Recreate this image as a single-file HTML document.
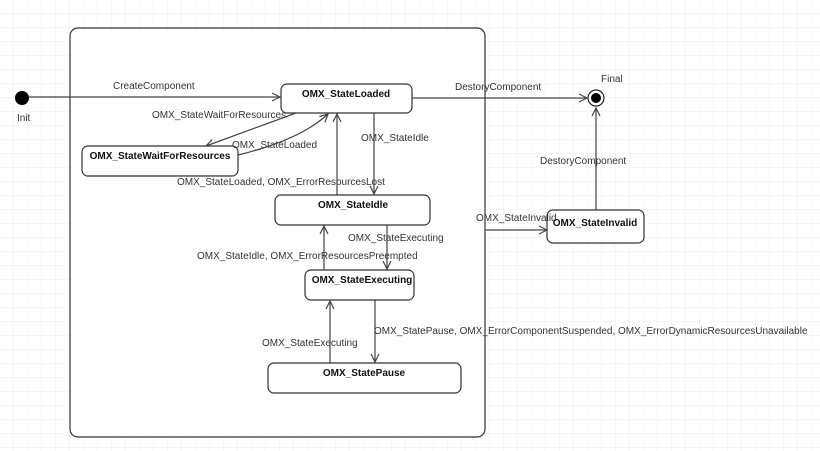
<!DOCTYPE html>
<html><head><meta charset="utf-8"><style>
html,body{margin:0;padding:0;background:#fff;}
svg{display:block;font-family:"Liberation Sans",sans-serif;}
.l{font-size:10px;fill:#333;}
.b{font-size:10px;font-weight:bold;fill:#111;text-anchor:middle;}
.e{stroke:#444;stroke-width:1.2;fill:none;}
.n{fill:#fff;stroke:#333;stroke-width:1.2;}
</style></head><body>
<svg width="820" height="451" viewBox="0 0 820 451">
<defs>
<pattern id="g" width="14" height="14" patternUnits="userSpaceOnUse">
<path d="M14 0V14H0" fill="none" stroke="#ececec" stroke-width="1"/>
</pattern>
<marker id="a" markerWidth="10" markerHeight="10" refX="9" refY="5" orient="auto" markerUnits="userSpaceOnUse">
<path d="M1 1L9 5L1 9" fill="none" stroke="#444" stroke-width="1.2"/>
</marker>
</defs>
<rect width="820" height="451" fill="url(#g)"/>
<rect x="70" y="28" width="415" height="409" rx="8" fill="#fff" stroke="#333" stroke-width="1.2"/>

<!-- edges -->
<path class="e" d="M29 97H280" marker-end="url(#a)"/>
<path class="e" d="M412 98H587" marker-end="url(#a)"/>
<path class="e" d="M596 210V108" marker-end="url(#a)"/>
<path class="e" d="M485 230H547" marker-end="url(#a)"/>
<path class="e" d="M296 113L206 146" marker-end="url(#a)"/>
<path class="e" d="M238 155Q300 140 328 114" marker-end="url(#a)"/>
<path class="e" d="M337 195V114" marker-end="url(#a)"/>
<path class="e" d="M374 113V194" marker-end="url(#a)"/>
<path class="e" d="M387 225V269" marker-end="url(#a)"/>
<path class="e" d="M324 270V226" marker-end="url(#a)"/>
<path class="e" d="M375 300V362" marker-end="url(#a)"/>
<path class="e" d="M330 363V301" marker-end="url(#a)"/>

<!-- init / final -->
<circle cx="22" cy="98" r="7" fill="#000"/>
<text class="l" x="17" y="121">Init</text>
<circle cx="596" cy="98" r="8" fill="#fff" stroke="#222" stroke-width="1.2"/>
<circle cx="596" cy="98" r="5" fill="#000"/>
<text class="l" x="601" y="82">Final</text>

<!-- nodes -->
<rect class="n" x="281" y="84" width="131" height="29" rx="6"/>
<text class="b" x="346" y="97">OMX_StateLoaded</text>
<rect class="n" x="82" y="146" width="156" height="30" rx="6"/>
<text class="b" x="160" y="159">OMX_StateWaitForResources</text>
<rect class="n" x="275" y="195" width="155" height="30" rx="6"/>
<text class="b" x="353" y="208">OMX_StateIdle</text>
<rect class="n" x="305" y="270" width="109" height="30" rx="6"/>
<text class="b" x="362" y="283">OMX_StateExecuting</text>
<rect class="n" x="268" y="363" width="193" height="30" rx="6"/>
<text class="b" x="364" y="376">OMX_StatePause</text>
<rect class="n" x="547" y="210" width="97" height="33" rx="6"/>
<text class="b" x="595" y="226">OMX_StateInvalid</text>

<!-- labels -->
<text class="l" x="113" y="89">CreateComponent</text>
<text class="l" x="455" y="90">DestoryComponent</text>
<text class="l" x="540" y="164">DestoryComponent</text>
<text class="l" x="476" y="221">OMX_StateInvalid</text>
<text class="l" x="152" y="118">OMX_StateWaitForResources</text>
<text class="l" x="232" y="148">OMX_StateLoaded</text>
<text class="l" x="177" y="185">OMX_StateLoaded, OMX_ErrorResourcesLost</text>
<text class="l" x="361" y="141">OMX_StateIdle</text>
<text class="l" x="348" y="241">OMX_StateExecuting</text>
<text class="l" x="197" y="259">OMX_StateIdle, OMX_ErrorResourcesPreempted</text>
<text class="l" x="374" y="334">OMX_StatePause, OMX_ErrorComponentSuspended, OMX_ErrorDynamicResourcesUnavailable</text>
<text class="l" x="262" y="346">OMX_StateExecuting</text>
</svg>
</body></html>
